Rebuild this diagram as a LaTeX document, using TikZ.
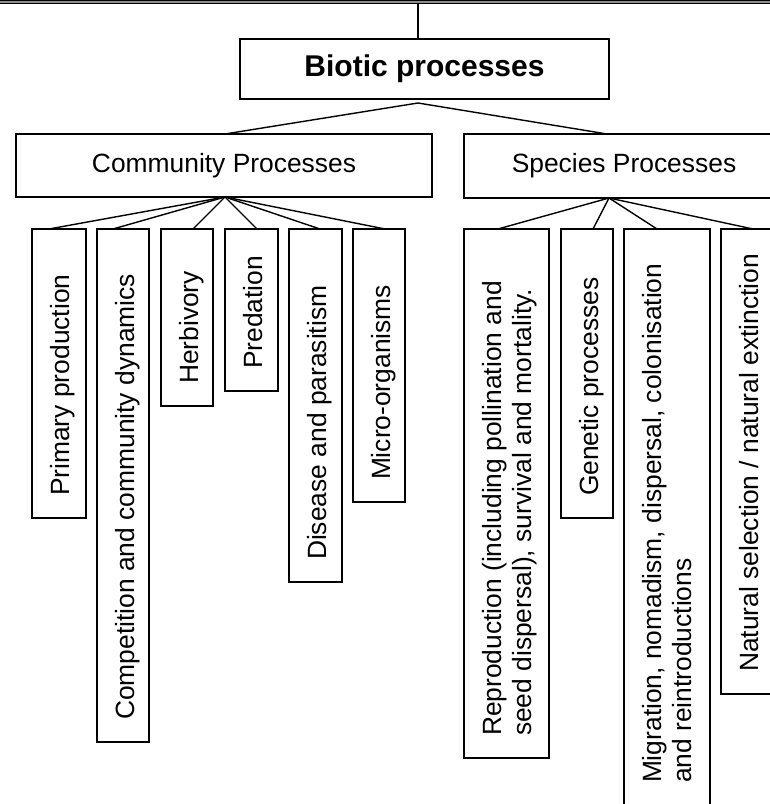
\documentclass[tikz,border=0pt]{standalone}
\usepackage{fontspec}
\setmainfont{Liberation Sans}
\usetikzlibrary{calc}
\begin{document}
\begin{tikzpicture}[x=1pt,y=1pt,
  box/.style={draw, line width=1.6pt, rectangle, inner sep=0pt, outer sep=0pt},
  body/.style={font=\fontsize{26.4}{30.4}\selectfont},
  vtext/.style={body, rotate=90, anchor=north west, inner sep=0pt, outer sep=0pt, align=left},
  link/.style={line width=1.4pt},
  child/.style={box, anchor=north west}]
\useasboundingbox (0,0) rectangle (770,804);
\clip (0,0) rectangle (770,804);

% double rule along the top edge
\draw[line width=1.4pt, black!45] (0,802) -- (770,802);
\draw[line width=0.9pt] (0,803.4) -- (770,803.4);
\draw[line width=0.9pt] (0,800.6) -- (770,800.6);
\coordinate (rule) at (418,801);

% top level
\node[box, minimum width=369pt, minimum height=60pt,
      font=\fontsize{30}{34}\selectfont\bfseries] (bio) at (424.5,735) {Biotic processes};
\coordinate (apex) at ($(bio.south)+(-6.5,-4)$);
\draw[link] (rule) -- ($(bio.north)+(-6.5,0)$);

% second level
\node[box, body, minimum width=416pt, minimum height=63pt] (comm) at (224,638.5) {Community Processes};
\node[box, body, minimum width=320pt, minimum height=64pt] (spec) at (624,638) {Species Processes};
\draw[link] ($(comm.north)+(1,0)$) -- (apex) -- ($(spec.north)+(-17,0)$);

% community processes
\node[child, minimum width=54pt, minimum height=289pt] (prim) at (32,575) {};
\node[child, minimum width=52pt, minimum height=513pt] (comp) at (97,575) {};
\node[child, minimum width=52pt, minimum height=177pt] (herb) at (161,575) {};
\node[child, minimum width=53pt, minimum height=162pt] (pred) at (225,575) {};
\node[child, minimum width=53pt, minimum height=353pt] (dis) at (289,575) {};
\node[child, minimum width=52pt, minimum height=273pt] (micro) at (353,575) {};

\node[vtext] (primT) at ($(prim.south west)+(16,22)$) {\strut Primary production};
\node[vtext] (compT) at ($(comp.south west)+(16,22)$) {\strut Competition and community dynamics};
\node[vtext] (herbT) at ($(herb.south west)+(16,22)$) {\strut Herbivory};
\node[vtext] (predT) at ($(pred.south west)+(16,22)$) {\strut Predation};
\node[vtext] (disT) at ($(dis.south west)+(16,22)$) {\strut Disease and parasitism};
\node[vtext] (microT) at ($(micro.south west)+(16,22)$) {\strut Micro-organisms};

\coordinate (cb) at ($(comm.south)+(1,0)$);
\draw[link] (cb) -- ($(prim.north)+(-10,0)$);
\draw[link] (cb) -- ($(comp.north)+(-10,0)$);
\draw[link] (cb) -- ($(herb.north)+(6,0)$);
\draw[link] (cb) -- ($(pred.north)+(5.5,0)$);
\draw[link] (cb) -- ($(dis.north)+(4.5,0)$);
\draw[link] (cb) -- ($(micro.north)+(6,0)$);

% species processes
\node[child, minimum width=85pt, minimum height=529pt] (repro) at (464,575) {};
\node[child, minimum width=52pt, minimum height=289pt] (gen) at (561,575) {};
\node[child, minimum width=86pt, minimum height=576pt] (migr) at (624,575) {};
\node[child, minimum width=53pt, minimum height=465pt] (nat) at (721,575) {};

\node[vtext] (reproT) at ($(repro.south west)+(16,22)$)
  {\strut Reproduction (including pollination and\\\strut seed dispersal), survival and mortality.};
\node[vtext] (genT) at ($(gen.south west)+(16,22)$) {\strut Genetic processes};
\node[vtext] (migrT) at ($(migr.south west)+(16,22)$)
  {\strut Migration, nomadism, dispersal, colonisation\\\strut and reintroductions};
\node[vtext] (natT) at ($(nat.south west)+(16,22)$) {\strut Natural selection / natural extinction};

\coordinate (sb) at ($(spec.south)+(-15,0)$);
\draw[link] (sb) -- ($(repro.north)+(-8.5,0)$);
\draw[link] (sb) -- ($(gen.north)+(6,0)$);
\draw[link] (sb) -- ($(migr.north)+(-10,0)$);
\draw[link] (sb) -- ($(nat.north)+(5.5,0)$);
\end{tikzpicture}
\end{document}
